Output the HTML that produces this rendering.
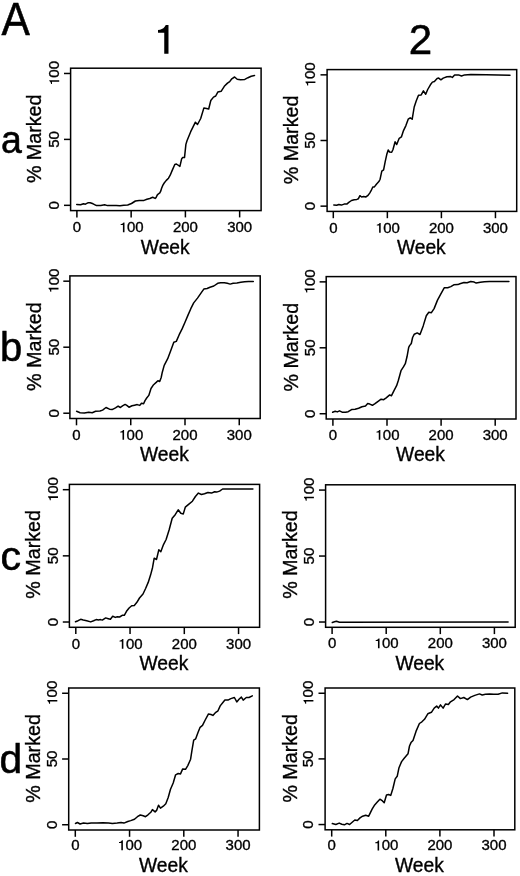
<!DOCTYPE html>
<html><head><meta charset="utf-8"><style>
html,body{margin:0;padding:0;background:#fff;}
body{width:520px;height:876px;overflow:hidden;}
svg{display:block;will-change:transform;}
text{font-family:"Liberation Sans",sans-serif;fill:#000;}
.tl{font-size:15px;stroke:#000;stroke-width:0.35px;}
.al{font-size:19.5px;stroke:#000;stroke-width:0.35px;}
.al2{font-size:19.3px;stroke:#000;stroke-width:0.35px;}
.big{font-size:42px;stroke:#000;stroke-width:0.55px;}
.g1{fill:#000;}
line{stroke:#000;stroke-width:1.5;}
.bx{fill:none;stroke:#000;stroke-width:1.5;}
.cv{fill:none;stroke:#000;stroke-width:1.5;stroke-linejoin:round;stroke-linecap:round;}
</style></head><body>
<svg width="520" height="876" viewBox="0 0 520 876">
<text x="0" y="0" class="big" style="font-size:46.5px" transform="translate(1.6,34.6) scale(0.915,1)">A</text>
<path d="M390 0L285 0L285 -518L131 -518L131 -586C200 -592 260 -615 291 -660C305 -680 318 -700 325 -709L390 -709Z" transform="translate(152.7,53.75) scale(0.0405)" class="g1"/>
<text x="0" y="0" class="big" style="font-size:42.1px" transform="translate(408.75,54.45) scale(1.0,1)">2</text>
<text x="0" y="0" class="big" style="font-size:39.6px" transform="translate(0.91,152.76) scale(0.946,1)">a</text>
<text x="0" y="0" class="big" style="font-size:40px" transform="translate(0.07,361.16)">b</text>
<text x="0" y="0" class="big" style="font-size:41px" transform="translate(0.51,569.66)">c</text>
<text x="0" y="0" class="big" style="font-size:40px" transform="translate(-0.43,773.06) scale(1.02,1)">d</text>
<rect x="70.6" y="68.2" width="190.5" height="142.4" class="bx"/>
<line x1="64" y1="205.33" x2="70.6" y2="205.33"/>
<line x1="64" y1="139.4" x2="70.6" y2="139.4"/>
<line x1="64" y1="73.47" x2="70.6" y2="73.47"/>
<line x1="76.9" y1="210.6" x2="76.9" y2="217.4"/>
<line x1="131.15" y1="210.6" x2="131.15" y2="217.4"/>
<line x1="185.4" y1="210.6" x2="185.4" y2="217.4"/>
<line x1="239.65" y1="210.6" x2="239.65" y2="217.4"/>
<g transform="translate(76.9,232.3) scale(1,0.93)"><text x="-4.17" y="0" class="tl">0</text></g>
<g transform="translate(131.15,232.3) scale(1,0.93)"><path d="M390 0L285 0L285 -518L131 -518L131 -586C200 -592 260 -615 291 -660C305 -680 318 -700 325 -709L390 -709Z" transform="translate(-12.51,0) scale(0.01500)" class="g1"/><text x="-4.17" y="0" class="tl">0</text><text x="4.17" y="0" class="tl">0</text></g>
<g transform="translate(185.4,232.3) scale(1,0.93)"><text x="-12.51" y="0" class="tl">2</text><text x="-4.17" y="0" class="tl">0</text><text x="4.17" y="0" class="tl">0</text></g>
<g transform="translate(239.65,232.3) scale(1,0.93)"><text x="-12.51" y="0" class="tl">3</text><text x="-4.17" y="0" class="tl">0</text><text x="4.17" y="0" class="tl">0</text></g>
<g transform="translate(59.2,205.33) rotate(-90) scale(1,0.93)"><text x="-4.17" y="0" class="tl">0</text></g>
<g transform="translate(59.2,139.4) rotate(-90) scale(1,0.93)"><text x="-8.34" y="0" class="tl">5</text><text x="0" y="0" class="tl">0</text></g>
<g transform="translate(59.2,73.47) rotate(-90) scale(1,0.93)"><path d="M390 0L285 0L285 -518L131 -518L131 -586C200 -592 260 -615 291 -660C305 -680 318 -700 325 -709L390 -709Z" transform="translate(-12.51,0) scale(0.01500)" class="g1"/><text x="-4.17" y="0" class="tl">0</text><text x="4.17" y="0" class="tl">0</text></g>
<text x="0" y="0" class="al" text-anchor="middle" transform="translate(165.25,254) scale(0.987,1)">Week</text>
<text x="0" y="0" transform="translate(40.7,138.8) rotate(-90) scale(1.02,1)" class="al2" text-anchor="middle">% Marked</text>
<path d="M76.7 204.4 L80.6 204.8 L83.5 203.8 L85.4 204.2 L88.3 202.7 L90.2 202.7 L93.1 203.8 L96.5 205.6 L100.8 205.4 L104.6 204.8 L107.5 205.6 L111.3 205.4 L116.2 205.6 L120 205.8 L123.8 205.2 L127.7 205 L131.5 203.5 L135.4 201 L139.2 200.6 L144 200.4 L146.9 199.2 L149.8 198.5 L152.7 197.3 L155.1 198.4 L156 197.7 L157.2 195.1 L158.5 193.8 L159.8 192.9 L160.7 191.2 L161.6 188.2 L162.9 185.1 L164.2 183 L166.3 180.4 L168.5 178.2 L170.2 175.2 L172 170.9 L174.8 164.5 L176.4 164 L179.9 166.4 L181.7 158.7 L182.7 157.6 L184.5 157.6 L185.9 144.4 L187 140.7 L190.7 131.7 L195.4 122.2 L197.5 124.5 L200.7 118.5 L203.9 107.9 L206.5 108.5 L208.7 109 L210.8 100.5 L213.5 97.1 L215.7 96 L217.8 92.1 L221.1 91.3 L224.3 86.3 L227.5 83.1 L229.7 81.6 L231.8 78.8 L234.6 77 L237.2 79.2 L240.5 79.8 L244.8 79.4 L248 77.7 L251.2 76.2 L254.5 75.5" class="cv"/>
<rect x="327.1" y="69.6" width="189.6" height="141.8" class="bx"/>
<line x1="320.5" y1="206.15" x2="327.1" y2="206.15"/>
<line x1="320.5" y1="140.5" x2="327.1" y2="140.5"/>
<line x1="320.5" y1="74.85" x2="327.1" y2="74.85"/>
<line x1="333.3" y1="211.4" x2="333.3" y2="218.2"/>
<line x1="387.35" y1="211.4" x2="387.35" y2="218.2"/>
<line x1="441.4" y1="211.4" x2="441.4" y2="218.2"/>
<line x1="495.45" y1="211.4" x2="495.45" y2="218.2"/>
<g transform="translate(333.3,232.8) scale(1,0.93)"><text x="-4.17" y="0" class="tl">0</text></g>
<g transform="translate(387.35,232.8) scale(1,0.93)"><path d="M390 0L285 0L285 -518L131 -518L131 -586C200 -592 260 -615 291 -660C305 -680 318 -700 325 -709L390 -709Z" transform="translate(-12.51,0) scale(0.01500)" class="g1"/><text x="-4.17" y="0" class="tl">0</text><text x="4.17" y="0" class="tl">0</text></g>
<g transform="translate(441.4,232.8) scale(1,0.93)"><text x="-12.51" y="0" class="tl">2</text><text x="-4.17" y="0" class="tl">0</text><text x="4.17" y="0" class="tl">0</text></g>
<g transform="translate(495.45,232.8) scale(1,0.93)"><text x="-12.51" y="0" class="tl">3</text><text x="-4.17" y="0" class="tl">0</text><text x="4.17" y="0" class="tl">0</text></g>
<g transform="translate(315.4,206.15) rotate(-90) scale(1,0.93)"><text x="-4.17" y="0" class="tl">0</text></g>
<g transform="translate(315.4,140.5) rotate(-90) scale(1,0.93)"><text x="-8.34" y="0" class="tl">5</text><text x="0" y="0" class="tl">0</text></g>
<g transform="translate(315.4,74.85) rotate(-90) scale(1,0.93)"><path d="M390 0L285 0L285 -518L131 -518L131 -586C200 -592 260 -615 291 -660C305 -680 318 -700 325 -709L390 -709Z" transform="translate(-12.51,0) scale(0.01500)" class="g1"/><text x="-4.17" y="0" class="tl">0</text><text x="4.17" y="0" class="tl">0</text></g>
<text x="0" y="0" class="al" text-anchor="middle" transform="translate(421.3,254.2) scale(0.987,1)">Week</text>
<text x="0" y="0" transform="translate(298.3,139.9) rotate(-90) scale(1.02,1)" class="al2" text-anchor="middle">% Marked</text>
<path d="M333.8 205.1 L336.7 205.2 L338.8 204.5 L341.4 205.1 L344.1 204.1 L346.8 204.1 L348.8 202.4 L351.5 200.5 L354.2 199.7 L356.9 199.4 L358.3 198.8 L359.9 195.7 L361.6 197 L363.7 196.5 L365.7 197 L367.7 195.7 L369.7 193.1 L371.1 190.7 L372.8 187 L374.4 186.9 L376.4 184.3 L379.1 181.3 L380.1 179.2 L381.8 171.2 L383.6 169.8 L385.2 161.7 L386.8 154.3 L388.2 149.9 L389.5 152 L391.7 152.3 L393 149.5 L395.1 141.8 L396.7 144.5 L399.2 138.3 L401.4 136.9 L403.5 130.6 L405.9 125.6 L408.2 119.2 L410.2 117.8 L412.2 119.2 L414.2 107 L416.2 101 L418.5 95.2 L421.2 94.9 L423.4 90.9 L425.7 94.2 L427.7 89.5 L430.4 84.8 L432.4 82.1 L434.4 81.5 L437.1 78.5 L438.7 78.1 L440.9 79.8 L443.2 78.1 L446.9 76.8 L450.8 76.5 L452.3 77.5 L454.6 74.9 L458.5 74.9 L461.5 76 L464.6 74.9 L470.8 74.6 L486.2 74.8 L510 75.2" class="cv"/>
<rect x="69.9" y="275.9" width="190.3" height="142.6" class="bx"/>
<line x1="63.3" y1="413.22" x2="69.9" y2="413.22"/>
<line x1="63.3" y1="347.2" x2="69.9" y2="347.2"/>
<line x1="63.3" y1="281.18" x2="69.9" y2="281.18"/>
<line x1="76.5" y1="418.5" x2="76.5" y2="425.3"/>
<line x1="130.75" y1="418.5" x2="130.75" y2="425.3"/>
<line x1="185" y1="418.5" x2="185" y2="425.3"/>
<line x1="239.25" y1="418.5" x2="239.25" y2="425.3"/>
<g transform="translate(76.5,439.8) scale(1,0.93)"><text x="-4.17" y="0" class="tl">0</text></g>
<g transform="translate(130.75,439.8) scale(1,0.93)"><path d="M390 0L285 0L285 -518L131 -518L131 -586C200 -592 260 -615 291 -660C305 -680 318 -700 325 -709L390 -709Z" transform="translate(-12.51,0) scale(0.01500)" class="g1"/><text x="-4.17" y="0" class="tl">0</text><text x="4.17" y="0" class="tl">0</text></g>
<g transform="translate(185,439.8) scale(1,0.93)"><text x="-12.51" y="0" class="tl">2</text><text x="-4.17" y="0" class="tl">0</text><text x="4.17" y="0" class="tl">0</text></g>
<g transform="translate(239.25,439.8) scale(1,0.93)"><text x="-12.51" y="0" class="tl">3</text><text x="-4.17" y="0" class="tl">0</text><text x="4.17" y="0" class="tl">0</text></g>
<g transform="translate(58.5,413.22) rotate(-90) scale(1,0.93)"><text x="-4.17" y="0" class="tl">0</text></g>
<g transform="translate(58.5,347.2) rotate(-90) scale(1,0.93)"><text x="-8.34" y="0" class="tl">5</text><text x="0" y="0" class="tl">0</text></g>
<g transform="translate(58.5,281.18) rotate(-90) scale(1,0.93)"><path d="M390 0L285 0L285 -518L131 -518L131 -586C200 -592 260 -615 291 -660C305 -680 318 -700 325 -709L390 -709Z" transform="translate(-12.51,0) scale(0.01500)" class="g1"/><text x="-4.17" y="0" class="tl">0</text><text x="4.17" y="0" class="tl">0</text></g>
<text x="0" y="0" class="al" text-anchor="middle" transform="translate(164.45,460.5) scale(0.987,1)">Week</text>
<text x="0" y="0" transform="translate(41,346.6) rotate(-90) scale(1.02,1)" class="al2" text-anchor="middle">% Marked</text>
<path d="M76.6 411.3 L80.1 412.7 L84.4 413 L88.7 412.2 L92.2 412.7 L95.6 411.3 L100 411 L102.6 410.1 L106 407.5 L109.5 409.2 L112.1 409.6 L115.5 407.8 L118.1 406.1 L120.4 407.5 L122.5 405.8 L125.1 404.4 L126.8 405.4 L129 407.2 L132 405.8 L134.6 405.2 L137.2 404.6 L139.8 405.4 L141.5 403.2 L143.6 403.7 L145 400.6 L146.7 398 L148.8 395.4 L151 388.5 L153.6 384.7 L156.2 382.4 L157.9 380.7 L159.7 381.5 L161.2 377.5 L162.3 372.2 L164.2 365.4 L167.7 358.7 L170.6 351 L173.8 342.3 L176.3 341.4 L179.2 334.7 L182.1 328.9 L185 322.2 L187.9 315.4 L190.8 308.7 L193.7 302.9 L197.5 298.1 L200.8 293.3 L203.8 289.1 L207.1 288.5 L210 287.2 L213.8 286 L217.7 283.3 L220.6 282.7 L224.4 282.7 L227.3 283.3 L230.2 284.1 L233.1 283.3 L236.9 282.9 L240.8 282.3 L244.6 281.8 L248.5 281.4 L253.3 281.4" class="cv"/>
<rect x="326.2" y="276.6" width="189.8" height="142.4" class="bx"/>
<line x1="319.6" y1="413.73" x2="326.2" y2="413.73"/>
<line x1="319.6" y1="347.8" x2="326.2" y2="347.8"/>
<line x1="319.6" y1="281.87" x2="326.2" y2="281.87"/>
<line x1="332.9" y1="419" x2="332.9" y2="425.8"/>
<line x1="387" y1="419" x2="387" y2="425.8"/>
<line x1="441.1" y1="419" x2="441.1" y2="425.8"/>
<line x1="495.2" y1="419" x2="495.2" y2="425.8"/>
<g transform="translate(332.9,439.8) scale(1,0.93)"><text x="-4.17" y="0" class="tl">0</text></g>
<g transform="translate(387,439.8) scale(1,0.93)"><path d="M390 0L285 0L285 -518L131 -518L131 -586C200 -592 260 -615 291 -660C305 -680 318 -700 325 -709L390 -709Z" transform="translate(-12.51,0) scale(0.01500)" class="g1"/><text x="-4.17" y="0" class="tl">0</text><text x="4.17" y="0" class="tl">0</text></g>
<g transform="translate(441.1,439.8) scale(1,0.93)"><text x="-12.51" y="0" class="tl">2</text><text x="-4.17" y="0" class="tl">0</text><text x="4.17" y="0" class="tl">0</text></g>
<g transform="translate(495.2,439.8) scale(1,0.93)"><text x="-12.51" y="0" class="tl">3</text><text x="-4.17" y="0" class="tl">0</text><text x="4.17" y="0" class="tl">0</text></g>
<g transform="translate(314.5,413.73) rotate(-90) scale(1,0.93)"><text x="-4.17" y="0" class="tl">0</text></g>
<g transform="translate(314.5,347.8) rotate(-90) scale(1,0.93)"><text x="-8.34" y="0" class="tl">5</text><text x="0" y="0" class="tl">0</text></g>
<g transform="translate(314.5,281.87) rotate(-90) scale(1,0.93)"><path d="M390 0L285 0L285 -518L131 -518L131 -586C200 -592 260 -615 291 -660C305 -680 318 -700 325 -709L390 -709Z" transform="translate(-12.51,0) scale(0.01500)" class="g1"/><text x="-4.17" y="0" class="tl">0</text><text x="4.17" y="0" class="tl">0</text></g>
<text x="0" y="0" class="al" text-anchor="middle" transform="translate(420.5,461) scale(0.987,1)">Week</text>
<text x="0" y="0" transform="translate(297.5,347.2) rotate(-90) scale(1.02,1)" class="al2" text-anchor="middle">% Marked</text>
<path d="M332.6 412.2 L335.2 411.3 L337.3 411.9 L339.5 410.8 L342.1 412.2 L345.6 412.2 L348.2 411.7 L351.6 409.6 L355.1 409.3 L358.6 408.2 L362 406.7 L365.5 406.1 L367.7 403.6 L369.8 404.1 L372.4 405.3 L375 403.6 L378.1 401.3 L381.1 399.2 L383.7 399.7 L386.2 397.8 L389.7 394.9 L391.4 395.8 L394 390.6 L396.6 385.7 L398.4 380.2 L401 370.7 L403.6 366.7 L405.3 363.7 L407 356.8 L408.7 347.3 L409.6 345.6 L411.3 343.5 L412.6 337.5 L414.3 334.2 L417.2 332.9 L420 334.5 L423.2 325.9 L426.3 315.7 L428.8 312.3 L431.4 312.7 L434.1 308.6 L437.5 300.1 L440.6 294.3 L444.2 287.8 L447.7 287.8 L450.8 286.6 L453.8 284.8 L457.9 284.6 L459.9 283.7 L464 282.5 L467.1 282.7 L470.7 281.5 L474.2 282.1 L476.2 283.1 L480.3 282.3 L484.4 281.7 L489.5 281.5 L508.9 281.5" class="cv"/>
<rect x="69.4" y="484.4" width="190.2" height="142.9" class="bx"/>
<line x1="62.8" y1="622.01" x2="69.4" y2="622.01"/>
<line x1="62.8" y1="555.85" x2="69.4" y2="555.85"/>
<line x1="62.8" y1="489.69" x2="69.4" y2="489.69"/>
<line x1="75.8" y1="627.3" x2="75.8" y2="634.1"/>
<line x1="130.05" y1="627.3" x2="130.05" y2="634.1"/>
<line x1="184.3" y1="627.3" x2="184.3" y2="634.1"/>
<line x1="238.55" y1="627.3" x2="238.55" y2="634.1"/>
<g transform="translate(75.8,648.8) scale(1,0.93)"><text x="-4.17" y="0" class="tl">0</text></g>
<g transform="translate(130.05,648.8) scale(1,0.93)"><path d="M390 0L285 0L285 -518L131 -518L131 -586C200 -592 260 -615 291 -660C305 -680 318 -700 325 -709L390 -709Z" transform="translate(-12.51,0) scale(0.01500)" class="g1"/><text x="-4.17" y="0" class="tl">0</text><text x="4.17" y="0" class="tl">0</text></g>
<g transform="translate(184.3,648.8) scale(1,0.93)"><text x="-12.51" y="0" class="tl">2</text><text x="-4.17" y="0" class="tl">0</text><text x="4.17" y="0" class="tl">0</text></g>
<g transform="translate(238.55,648.8) scale(1,0.93)"><text x="-12.51" y="0" class="tl">3</text><text x="-4.17" y="0" class="tl">0</text><text x="4.17" y="0" class="tl">0</text></g>
<g transform="translate(58,622.01) rotate(-90) scale(1,0.93)"><text x="-4.17" y="0" class="tl">0</text></g>
<g transform="translate(58,555.85) rotate(-90) scale(1,0.93)"><text x="-8.34" y="0" class="tl">5</text><text x="0" y="0" class="tl">0</text></g>
<g transform="translate(58,489.69) rotate(-90) scale(1,0.93)"><path d="M390 0L285 0L285 -518L131 -518L131 -586C200 -592 260 -615 291 -660C305 -680 318 -700 325 -709L390 -709Z" transform="translate(-12.51,0) scale(0.01500)" class="g1"/><text x="-4.17" y="0" class="tl">0</text><text x="4.17" y="0" class="tl">0</text></g>
<text x="0" y="0" class="al" text-anchor="middle" transform="translate(163.9,669.9) scale(0.987,1)">Week</text>
<text x="0" y="0" transform="translate(40,554.35) rotate(-90) scale(1.02,1)" class="al2" text-anchor="middle">% Marked</text>
<path d="M75.5 621.7 L78.1 620.7 L80.7 619.3 L83.2 620 L86.7 620.8 L90.7 621.9 L93.6 620.8 L96.2 619.6 L98.3 620.1 L100.6 619.6 L102.3 620.1 L105.7 617.9 L108.3 618.7 L110.4 619.3 L112.7 616.2 L115.3 617.4 L117.3 616.7 L119.6 617 L122.2 615.3 L124.3 615.3 L126.5 611.3 L129.1 608 L131.7 605.8 L134.3 605.4 L136.9 602.3 L139.5 598 L143 594 L145.6 588.5 L148.2 582.4 L150.7 574.6 L152.5 567.7 L154.2 558.2 L156.5 559.5 L158.8 549.8 L160.8 551.8 L163.5 544.6 L166.1 539.5 L169.1 530 L172.2 518.3 L175.2 514.7 L178.2 509.8 L180.8 513.3 L183.3 513.9 L185.3 507.2 L188.9 504.2 L192.4 501.2 L195.4 496.5 L198.4 493.1 L201.4 494.5 L204.5 493.7 L207.9 492.5 L211.5 493.1 L214.6 491.7 L216.6 492.1 L219.6 491.1 L222.6 489 L252.9 489" class="cv"/>
<rect x="325.6" y="484.8" width="189.6" height="142.5" class="bx"/>
<line x1="319" y1="622.02" x2="325.6" y2="622.02"/>
<line x1="319" y1="556.05" x2="325.6" y2="556.05"/>
<line x1="319" y1="490.08" x2="325.6" y2="490.08"/>
<line x1="332.1" y1="627.3" x2="332.1" y2="634.1"/>
<line x1="386.2" y1="627.3" x2="386.2" y2="634.1"/>
<line x1="440.3" y1="627.3" x2="440.3" y2="634.1"/>
<line x1="494.4" y1="627.3" x2="494.4" y2="634.1"/>
<g transform="translate(332.1,648.3) scale(1,0.93)"><text x="-4.17" y="0" class="tl">0</text></g>
<g transform="translate(386.2,648.3) scale(1,0.93)"><path d="M390 0L285 0L285 -518L131 -518L131 -586C200 -592 260 -615 291 -660C305 -680 318 -700 325 -709L390 -709Z" transform="translate(-12.51,0) scale(0.01500)" class="g1"/><text x="-4.17" y="0" class="tl">0</text><text x="4.17" y="0" class="tl">0</text></g>
<g transform="translate(440.3,648.3) scale(1,0.93)"><text x="-12.51" y="0" class="tl">2</text><text x="-4.17" y="0" class="tl">0</text><text x="4.17" y="0" class="tl">0</text></g>
<g transform="translate(494.4,648.3) scale(1,0.93)"><text x="-12.51" y="0" class="tl">3</text><text x="-4.17" y="0" class="tl">0</text><text x="4.17" y="0" class="tl">0</text></g>
<g transform="translate(313.9,622.02) rotate(-90) scale(1,0.93)"><text x="-4.17" y="0" class="tl">0</text></g>
<g transform="translate(313.9,556.05) rotate(-90) scale(1,0.93)"><text x="-8.34" y="0" class="tl">5</text><text x="0" y="0" class="tl">0</text></g>
<g transform="translate(313.9,490.08) rotate(-90) scale(1,0.93)"><path d="M390 0L285 0L285 -518L131 -518L131 -586C200 -592 260 -615 291 -660C305 -680 318 -700 325 -709L390 -709Z" transform="translate(-12.51,0) scale(0.01500)" class="g1"/><text x="-4.17" y="0" class="tl">0</text><text x="4.17" y="0" class="tl">0</text></g>
<text x="0" y="0" class="al" text-anchor="middle" transform="translate(419.8,669.9) scale(0.987,1)">Week</text>
<text x="0" y="0" transform="translate(297.4,554.55) rotate(-90) scale(1.02,1)" class="al2" text-anchor="middle">% Marked</text>
<path d="M332.3 622.5 L334.5 621.8 L336.5 621.2 L339.4 622.2 L508.1 622" class="cv"/>
<rect x="68.7" y="688" width="190.7" height="142" class="bx"/>
<line x1="62.1" y1="824.74" x2="68.7" y2="824.74"/>
<line x1="62.1" y1="759" x2="68.7" y2="759"/>
<line x1="62.1" y1="693.26" x2="68.7" y2="693.26"/>
<line x1="75.3" y1="830" x2="75.3" y2="836.8"/>
<line x1="129.55" y1="830" x2="129.55" y2="836.8"/>
<line x1="183.8" y1="830" x2="183.8" y2="836.8"/>
<line x1="238.05" y1="830" x2="238.05" y2="836.8"/>
<g transform="translate(75.3,850.2) scale(1,0.93)"><text x="-4.17" y="0" class="tl">0</text></g>
<g transform="translate(129.55,850.2) scale(1,0.93)"><path d="M390 0L285 0L285 -518L131 -518L131 -586C200 -592 260 -615 291 -660C305 -680 318 -700 325 -709L390 -709Z" transform="translate(-12.51,0) scale(0.01500)" class="g1"/><text x="-4.17" y="0" class="tl">0</text><text x="4.17" y="0" class="tl">0</text></g>
<g transform="translate(183.8,850.2) scale(1,0.93)"><text x="-12.51" y="0" class="tl">2</text><text x="-4.17" y="0" class="tl">0</text><text x="4.17" y="0" class="tl">0</text></g>
<g transform="translate(238.05,850.2) scale(1,0.93)"><text x="-12.51" y="0" class="tl">3</text><text x="-4.17" y="0" class="tl">0</text><text x="4.17" y="0" class="tl">0</text></g>
<g transform="translate(57.3,824.74) rotate(-90) scale(1,0.93)"><text x="-4.17" y="0" class="tl">0</text></g>
<g transform="translate(57.3,759) rotate(-90) scale(1,0.93)"><text x="-8.34" y="0" class="tl">5</text><text x="0" y="0" class="tl">0</text></g>
<g transform="translate(57.3,693.26) rotate(-90) scale(1,0.93)"><path d="M390 0L285 0L285 -518L131 -518L131 -586C200 -592 260 -615 291 -660C305 -680 318 -700 325 -709L390 -709Z" transform="translate(-12.51,0) scale(0.01500)" class="g1"/><text x="-4.17" y="0" class="tl">0</text><text x="4.17" y="0" class="tl">0</text></g>
<text x="0" y="0" class="al" text-anchor="middle" transform="translate(163.45,871.9) scale(0.987,1)">Week</text>
<text x="0" y="0" transform="translate(40.1,758.4) rotate(-90) scale(1.02,1)" class="al2" text-anchor="middle">% Marked</text>
<path d="M75.5 823.5 L77.4 822.5 L80.1 824 L83.5 823.1 L87.4 823.5 L91.2 822.9 L97 823.1 L102.8 822.7 L108.5 822.9 L112.4 823.5 L117.2 823.1 L121 822.5 L123.9 823.1 L127.8 821.5 L130.7 820.6 L134.5 819.2 L137.4 816.7 L140.3 815 L143.2 815.8 L145.5 816.7 L148 814.8 L150.8 812.3 L152.4 809.6 L155.1 811.9 L156.6 810.4 L158.5 805.2 L160.5 808.1 L163.3 806.2 L165.8 803.8 L168.2 797.5 L170.5 789.3 L173.2 783 L175.6 774.8 L178.2 773.5 L180.5 773.9 L182.7 768.9 L185.5 769.3 L187.8 765.6 L190.6 759.2 L192 750.1 L193.7 740.1 L195.7 738.8 L197.9 732.8 L200.1 727.3 L202.5 725.4 L205.2 720 L208.5 713.9 L211 714.5 L212.9 715.4 L215.8 712.3 L218 710.8 L220.2 705.9 L223.1 702.2 L224.9 700.1 L228 700.1 L230.8 698.6 L234.4 697.5 L236.8 701.9 L239 699.3 L241.4 697.1 L243.2 700.1 L246.3 697.5 L249 697.5 L252.3 695.9" class="cv"/>
<rect x="325.1" y="688" width="189.7" height="141.8" class="bx"/>
<line x1="318.5" y1="824.55" x2="325.1" y2="824.55"/>
<line x1="318.5" y1="758.9" x2="325.1" y2="758.9"/>
<line x1="318.5" y1="693.25" x2="325.1" y2="693.25"/>
<line x1="331.7" y1="829.8" x2="331.7" y2="836.6"/>
<line x1="385.8" y1="829.8" x2="385.8" y2="836.6"/>
<line x1="439.9" y1="829.8" x2="439.9" y2="836.6"/>
<line x1="494" y1="829.8" x2="494" y2="836.6"/>
<g transform="translate(331.7,850.4) scale(1,0.93)"><text x="-4.17" y="0" class="tl">0</text></g>
<g transform="translate(385.8,850.4) scale(1,0.93)"><path d="M390 0L285 0L285 -518L131 -518L131 -586C200 -592 260 -615 291 -660C305 -680 318 -700 325 -709L390 -709Z" transform="translate(-12.51,0) scale(0.01500)" class="g1"/><text x="-4.17" y="0" class="tl">0</text><text x="4.17" y="0" class="tl">0</text></g>
<g transform="translate(439.9,850.4) scale(1,0.93)"><text x="-12.51" y="0" class="tl">2</text><text x="-4.17" y="0" class="tl">0</text><text x="4.17" y="0" class="tl">0</text></g>
<g transform="translate(494,850.4) scale(1,0.93)"><text x="-12.51" y="0" class="tl">3</text><text x="-4.17" y="0" class="tl">0</text><text x="4.17" y="0" class="tl">0</text></g>
<g transform="translate(313.4,824.55) rotate(-90) scale(1,0.93)"><text x="-4.17" y="0" class="tl">0</text></g>
<g transform="translate(313.4,758.9) rotate(-90) scale(1,0.93)"><text x="-8.34" y="0" class="tl">5</text><text x="0" y="0" class="tl">0</text></g>
<g transform="translate(313.4,693.25) rotate(-90) scale(1,0.93)"><path d="M390 0L285 0L285 -518L131 -518L131 -586C200 -592 260 -615 291 -660C305 -680 318 -700 325 -709L390 -709Z" transform="translate(-12.51,0) scale(0.01500)" class="g1"/><text x="-4.17" y="0" class="tl">0</text><text x="4.17" y="0" class="tl">0</text></g>
<text x="0" y="0" class="al" text-anchor="middle" transform="translate(419.35,871.9) scale(0.987,1)">Week</text>
<text x="0" y="0" transform="translate(296.9,758.3) rotate(-90) scale(1.02,1)" class="al2" text-anchor="middle">% Marked</text>
<path d="M332.3 823.6 L335.8 824.5 L339.2 823.1 L341.8 824.3 L344.4 824.8 L347 823.4 L349.6 824.5 L352.2 822.2 L354.8 820 L357.4 820.5 L360 817.9 L362.6 816.2 L365.7 815.3 L368.7 816.2 L372.1 809.2 L374.7 804.9 L377.3 802 L379.9 799.2 L382.5 800.9 L384.2 802.7 L386.5 795 L388.6 794.5 L390.7 795.4 L392.9 788.5 L395.2 778.9 L397.2 776.3 L399 767.7 L401.6 761.6 L404.2 758.2 L408 753.8 L409.5 746 L411 742.6 L413 740.5 L416 731.4 L419.4 723.5 L421.9 721.8 L424.5 719.3 L427.8 713.8 L431.4 712.3 L434.2 708.1 L436.7 706 L438.4 708.1 L440.5 704.9 L443.1 708.1 L445.6 703.9 L448.4 704.5 L450.5 701.8 L454.1 699.6 L457.5 696 L460.4 698.6 L463.8 697.5 L467.4 699.6 L470.6 697.1 L474.8 695.4 L479.5 693.9 L482.2 695 L485.4 694.3 L489.6 693.9 L493.9 694.3 L498.1 694.3 L502.3 692.9 L507.6 693.3" class="cv"/>
</svg>
</body></html>
